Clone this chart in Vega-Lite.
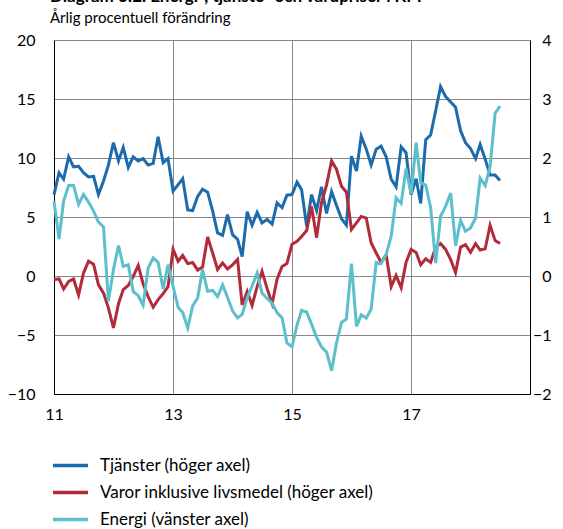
{
"$schema": "https://vega.github.io/schema/vega-lite/v6.json",
"width": 476, "height": 354,
"autosize": {"type": "none"},
"padding": {"left": 54, "top": 40, "right": 33, "bottom": 135},
"background": "white",
"config": {"font": "Lato", "view": {"stroke": null}},
"title": {"text": "Diagram 3:2. Energi-, tjänste- och varupriser i KPI", "subtitle": "Årlig procentuell förändring", "anchor": "start", "frame": "group", "dx": -4, "fontSize": 17, "fontWeight": "bold", "color": "black", "subtitleFontSize": 15, "subtitleColor": "black", "subtitlePadding": 5, "offset": 5},
"data": {"values": [
{"d":"2011-01-01","Tjänster (höger axel)":1.38,"Varor inklusive livsmedel (höger axel)":-0.06,"Energi (vänster axel)":6.35},
{"d":"2011-02-01","Tjänster (höger axel)":1.75,"Varor inklusive livsmedel (höger axel)":-0.05,"Energi (vänster axel)":3.14},
{"d":"2011-03-01","Tjänster (höger axel)":1.64,"Varor inklusive livsmedel (höger axel)":-0.22,"Energi (vänster axel)":6.35},
{"d":"2011-04-01","Tjänster (höger axel)":2.02,"Varor inklusive livsmedel (höger axel)":-0.09,"Energi (vänster axel)":7.68},
{"d":"2011-05-01","Tjänster (höger axel)":1.85,"Varor inklusive livsmedel (höger axel)":-0.05,"Energi (vänster axel)":7.68},
{"d":"2011-06-01","Tjänster (höger axel)":1.86,"Varor inklusive livsmedel (höger axel)":-0.32,"Energi (vänster axel)":6.06},
{"d":"2011-07-01","Tjänster (höger axel)":1.75,"Varor inklusive livsmedel (höger axel)":0.05,"Energi (vänster axel)":6.91},
{"d":"2011-08-01","Tjänster (höger axel)":1.68,"Varor inklusive livsmedel (höger axel)":0.25,"Energi (vänster axel)":6.26},
{"d":"2011-09-01","Tjänster (höger axel)":1.69,"Varor inklusive livsmedel (höger axel)":0.20,"Energi (vänster axel)":5.50},
{"d":"2011-10-01","Tjänster (höger axel)":1.38,"Varor inklusive livsmedel (höger axel)":-0.15,"Energi (vänster axel)":4.56},
{"d":"2011-11-01","Tjänster (höger axel)":1.61,"Varor inklusive livsmedel (höger axel)":-0.29,"Energi (vänster axel)":4.16},
{"d":"2011-12-01","Tjänster (höger axel)":1.88,"Varor inklusive livsmedel (höger axel)":-0.54,"Energi (vänster axel)":-2.15},
{"d":"2012-01-01","Tjänster (höger axel)":2.26,"Varor inklusive livsmedel (höger axel)":-0.88,"Energi (vänster axel)":0.54},
{"d":"2012-02-01","Tjänster (höger axel)":1.95,"Varor inklusive livsmedel (höger axel)":-0.47,"Energi (vänster axel)":2.58},
{"d":"2012-03-01","Tjänster (höger axel)":2.18,"Varor inklusive livsmedel (höger axel)":-0.23,"Energi (vänster axel)":0.82},
{"d":"2012-04-01","Tjänster (höger axel)":1.84,"Varor inklusive livsmedel (höger axel)":-0.16,"Energi (vänster axel)":0.96},
{"d":"2012-05-01","Tjänster (höger axel)":2.02,"Varor inklusive livsmedel (höger axel)":-0.01,"Energi (vänster axel)":-1.30},
{"d":"2012-06-01","Tjänster (höger axel)":1.95,"Varor inklusive livsmedel (höger axel)":0.18,"Energi (vänster axel)":-1.67},
{"d":"2012-07-01","Tjänster (höger axel)":1.99,"Varor inklusive livsmedel (höger axel)":-0.13,"Energi (vänster axel)":-2.46},
{"d":"2012-08-01","Tjänster (höger axel)":1.88,"Varor inklusive livsmedel (höger axel)":-0.35,"Energi (vänster axel)":0.68},
{"d":"2012-09-01","Tjänster (höger axel)":1.91,"Varor inklusive livsmedel (höger axel)":-0.53,"Energi (vänster axel)":1.53},
{"d":"2012-10-01","Tjänster (höger axel)":2.36,"Varor inklusive livsmedel (höger axel)":-0.40,"Energi (vänster axel)":1.16},
{"d":"2012-11-01","Tjänster (höger axel)":1.92,"Varor inklusive livsmedel (höger axel)":-0.30,"Energi (vänster axel)":-1.10},
{"d":"2012-12-01","Tjänster (höger axel)":1.99,"Varor inklusive livsmedel (höger axel)":-0.18,"Energi (vänster axel)":0.96},
{"d":"2013-01-01","Tjänster (höger axel)":1.44,"Varor inklusive livsmedel (höger axel)":0.45,"Energi (vänster axel)":-0.90},
{"d":"2013-02-01","Tjänster (höger axel)":1.55,"Varor inklusive livsmedel (höger axel)":0.25,"Energi (vänster axel)":-2.65},
{"d":"2013-03-01","Tjänster (höger axel)":1.65,"Varor inklusive livsmedel (höger axel)":0.35,"Energi (vänster axel)":-3.10},
{"d":"2013-04-01","Tjänster (höger axel)":1.12,"Varor inklusive livsmedel (höger axel)":0.21,"Energi (vänster axel)":-4.42},
{"d":"2013-05-01","Tjänster (höger axel)":1.11,"Varor inklusive livsmedel (höger axel)":0.23,"Energi (vänster axel)":-2.55},
{"d":"2013-06-01","Tjänster (höger axel)":1.35,"Varor inklusive livsmedel (höger axel)":0.10,"Energi (vänster axel)":-1.85},
{"d":"2013-07-01","Tjänster (höger axel)":1.47,"Varor inklusive livsmedel (höger axel)":0.15,"Energi (vänster axel)":0.54},
{"d":"2013-08-01","Tjänster (höger axel)":1.42,"Varor inklusive livsmedel (höger axel)":0.66,"Energi (vänster axel)":-1.30},
{"d":"2013-09-01","Tjänster (höger axel)":1.10,"Varor inklusive livsmedel (höger axel)":0.39,"Energi (vänster axel)":-1.22},
{"d":"2013-10-01","Tjänster (höger axel)":0.73,"Varor inklusive livsmedel (höger axel)":0.11,"Energi (vänster axel)":-1.75},
{"d":"2013-11-01","Tjänster (höger axel)":0.69,"Varor inklusive livsmedel (höger axel)":0.22,"Energi (vänster axel)":-0.75},
{"d":"2013-12-01","Tjänster (höger axel)":1.04,"Varor inklusive livsmedel (höger axel)":0.12,"Energi (vänster axel)":-1.80},
{"d":"2014-01-01","Tjänster (höger axel)":0.70,"Varor inklusive livsmedel (höger axel)":0.19,"Energi (vänster axel)":-2.95},
{"d":"2014-02-01","Tjänster (höger axel)":0.62,"Varor inklusive livsmedel (höger axel)":0.28,"Energi (vänster axel)":-3.55},
{"d":"2014-03-01","Tjänster (höger axel)":0.33,"Varor inklusive livsmedel (höger axel)":-0.49,"Energi (vänster axel)":-3.25},
{"d":"2014-04-01","Tjänster (höger axel)":1.09,"Varor inklusive livsmedel (höger axel)":-0.26,"Energi (vänster axel)":-1.85},
{"d":"2014-05-01","Tjänster (höger axel)":0.86,"Varor inklusive livsmedel (höger axel)":-0.50,"Energi (vänster axel)":-0.85},
{"d":"2014-06-01","Tjänster (höger axel)":1.08,"Varor inklusive livsmedel (höger axel)":-0.18,"Energi (vänster axel)":0.25},
{"d":"2014-07-01","Tjänster (höger axel)":0.90,"Varor inklusive livsmedel (höger axel)":0.08,"Energi (vänster axel)":-1.45},
{"d":"2014-08-01","Tjänster (höger axel)":0.96,"Varor inklusive livsmedel (höger axel)":-0.21,"Energi (vänster axel)":-1.90},
{"d":"2014-09-01","Tjänster (höger axel)":0.88,"Varor inklusive livsmedel (höger axel)":-0.47,"Energi (vänster axel)":-2.30},
{"d":"2014-10-01","Tjänster (höger axel)":1.24,"Varor inklusive livsmedel (höger axel)":-0.06,"Energi (vänster axel)":-3.10},
{"d":"2014-11-01","Tjänster (höger axel)":1.16,"Varor inklusive livsmedel (höger axel)":0.16,"Energi (vänster axel)":-3.55},
{"d":"2014-12-01","Tjänster (höger axel)":1.37,"Varor inklusive livsmedel (höger axel)":0.21,"Energi (vänster axel)":-5.67},
{"d":"2015-01-01","Tjänster (höger axel)":1.38,"Varor inklusive livsmedel (höger axel)":0.54,"Energi (vänster axel)":-6.00},
{"d":"2015-02-01","Tjänster (höger axel)":1.59,"Varor inklusive livsmedel (höger axel)":0.59,"Energi (vänster axel)":-4.15},
{"d":"2015-03-01","Tjänster (höger axel)":1.46,"Varor inklusive livsmedel (höger axel)":0.67,"Energi (vänster axel)":-2.92},
{"d":"2015-04-01","Tjänster (höger axel)":0.84,"Varor inklusive livsmedel (höger axel)":0.77,"Energi (vänster axel)":-3.05},
{"d":"2015-05-01","Tjänster (höger axel)":1.38,"Varor inklusive livsmedel (höger axel)":1.18,"Energi (vänster axel)":-4.08},
{"d":"2015-06-01","Tjänster (höger axel)":1.11,"Varor inklusive livsmedel (höger axel)":0.65,"Energi (vänster axel)":-5.20},
{"d":"2015-07-01","Tjänster (höger axel)":1.51,"Varor inklusive livsmedel (höger axel)":1.24,"Energi (vänster axel)":-6.00},
{"d":"2015-08-01","Tjänster (höger axel)":1.06,"Varor inklusive livsmedel (höger axel)":1.54,"Energi (vänster axel)":-6.45},
{"d":"2015-09-01","Tjänster (höger axel)":1.43,"Varor inklusive livsmedel (höger axel)":1.95,"Energi (vänster axel)":-8.02},
{"d":"2015-10-01","Tjänster (höger axel)":1.20,"Varor inklusive livsmedel (höger axel)":1.81,"Energi (vänster axel)":-5.69},
{"d":"2015-11-01","Tjänster (höger axel)":0.97,"Varor inklusive livsmedel (höger axel)":1.52,"Energi (vänster axel)":-3.94},
{"d":"2015-12-01","Tjänster (höger axel)":0.86,"Varor inklusive livsmedel (höger axel)":1.42,"Energi (vänster axel)":-3.65},
{"d":"2016-01-01","Tjänster (höger axel)":2.03,"Varor inklusive livsmedel (höger axel)":0.79,"Energi (vänster axel)":1.05},
{"d":"2016-02-01","Tjänster (höger axel)":1.78,"Varor inklusive livsmedel (höger axel)":0.90,"Energi (vänster axel)":-4.28},
{"d":"2016-03-01","Tjänster (höger axel)":2.37,"Varor inklusive livsmedel (höger axel)":1.01,"Energi (vänster axel)":-3.29},
{"d":"2016-04-01","Tjänster (höger axel)":2.15,"Varor inklusive livsmedel (höger axel)":0.98,"Energi (vänster axel)":-3.57},
{"d":"2016-05-01","Tjänster (höger axel)":1.88,"Varor inklusive livsmedel (höger axel)":0.56,"Energi (vänster axel)":-2.80},
{"d":"2016-06-01","Tjänster (höger axel)":2.15,"Varor inklusive livsmedel (höger axel)":0.39,"Energi (vänster axel)":1.16},
{"d":"2016-07-01","Tjänster (höger axel)":2.20,"Varor inklusive livsmedel (höger axel)":0.23,"Energi (vänster axel)":1.05},
{"d":"2016-08-01","Tjänster (höger axel)":2.02,"Varor inklusive livsmedel (höger axel)":0.36,"Energi (vänster axel)":1.81},
{"d":"2016-09-01","Tjänster (höger axel)":1.64,"Varor inklusive livsmedel (höger axel)":-0.18,"Energi (vänster axel)":3.37},
{"d":"2016-10-01","Tjänster (höger axel)":1.51,"Varor inklusive livsmedel (höger axel)":0.01,"Energi (vänster axel)":6.63},
{"d":"2016-11-01","Tjänster (höger axel)":2.19,"Varor inklusive livsmedel (höger axel)":-0.20,"Energi (vänster axel)":6.15},
{"d":"2016-12-01","Tjänster (höger axel)":2.09,"Varor inklusive livsmedel (höger axel)":0.23,"Energi (vänster axel)":9.09},
{"d":"2017-01-01","Tjänster (höger axel)":1.38,"Varor inklusive livsmedel (höger axel)":0.45,"Energi (vänster axel)":6.95},
{"d":"2017-02-01","Tjänster (höger axel)":1.65,"Varor inklusive livsmedel (höger axel)":0.40,"Energi (vänster axel)":11.3},
{"d":"2017-03-01","Tjänster (höger axel)":1.23,"Varor inklusive livsmedel (höger axel)":0.19,"Energi (vänster axel)":7.9},
{"d":"2017-04-01","Tjänster (höger axel)":2.31,"Varor inklusive livsmedel (höger axel)":0.29,"Energi (vänster axel)":7.7},
{"d":"2017-05-01","Tjänster (höger axel)":2.39,"Varor inklusive livsmedel (höger axel)":0.23,"Energi (vänster axel)":5.8},
{"d":"2017-06-01","Tjänster (höger axel)":2.80,"Varor inklusive livsmedel (höger axel)":0.49,"Energi (vänster axel)":1.1},
{"d":"2017-07-01","Tjänster (höger axel)":3.21,"Varor inklusive livsmedel (höger axel)":0.55,"Energi (vänster axel)":5.06},
{"d":"2017-08-01","Tjänster (höger axel)":3.04,"Varor inklusive livsmedel (höger axel)":0.45,"Energi (vänster axel)":5.9},
{"d":"2017-09-01","Tjänster (höger axel)":2.95,"Varor inklusive livsmedel (höger axel)":0.28,"Energi (vänster axel)":7.03},
{"d":"2017-10-01","Tjänster (höger axel)":2.86,"Varor inklusive livsmedel (höger axel)":0.06,"Energi (vänster axel)":2.57},
{"d":"2017-11-01","Tjänster (höger axel)":2.46,"Varor inklusive livsmedel (höger axel)":0.49,"Energi (vänster axel)":4.72},
{"d":"2017-12-01","Tjänster (höger axel)":2.26,"Varor inklusive livsmedel (höger axel)":0.53,"Energi (vänster axel)":3.79},
{"d":"2018-01-01","Tjänster (höger axel)":2.16,"Varor inklusive livsmedel (höger axel)":0.40,"Energi (vänster axel)":4.07},
{"d":"2018-02-01","Tjänster (höger axel)":1.99,"Varor inklusive livsmedel (höger axel)":0.55,"Energi (vänster axel)":4.92},
{"d":"2018-03-01","Tjänster (höger axel)":2.23,"Varor inklusive livsmedel (höger axel)":0.44,"Energi (vänster axel)":8.31},
{"d":"2018-04-01","Tjänster (höger axel)":1.98,"Varor inklusive livsmedel (höger axel)":0.46,"Energi (vänster axel)":7.66},
{"d":"2018-05-01","Tjänster (höger axel)":1.71,"Varor inklusive livsmedel (höger axel)":0.86,"Energi (vänster axel)":9.3},
{"d":"2018-06-01","Tjänster (höger axel)":1.71,"Varor inklusive livsmedel (höger axel)":0.60,"Energi (vänster axel)":13.8},
{"d":"2018-07-01","Tjänster (höger axel)":1.62,"Varor inklusive livsmedel (höger axel)":0.55,"Energi (vänster axel)":14.4}
]},
"transform": [{"fold": ["Tjänster (höger axel)", "Varor inklusive livsmedel (höger axel)", "Energi (vänster axel)"], "as": ["s", "v"]}],
"encoding": {
  "x": {"field": "d", "type": "temporal", "timeUnit": "utcyearmonth",
    "scale": {"domain": [{"year": 2011, "month": 1, "date": 1, "utc": true}, {"year": 2019, "month": 1, "date": 1, "utc": true}]},
    "axis": {"title": null, "values": [{"year": 2011, "utc": true}, {"year": 2013, "utc": true}, {"year": 2015, "utc": true}, {"year": 2017, "utc": true}],
      "format": "%y", "labelFlush": false, "labelFontSize": 16, "labelColor": "black", "labelPadding": 12, "ticks": false,
      "domainColor": "black", "domainWidth": 1, "grid": true, "gridColor": "#888888", "gridWidth": 1}
  },
  "color": {"field": "s", "type": "nominal",
    "scale": {"domain": ["Tjänster (höger axel)", "Varor inklusive livsmedel (höger axel)", "Energi (vänster axel)"], "range": ["#1c6bad", "#b22b3a", "#5dbfcc"]},
    "legend": {"title": null, "orient": "none", "legendX": 8, "legendY": 417, "direction": "vertical",
      "symbolType": "M-3.5,0H3.5", "symbolSize": 100, "symbolStrokeWidth": 3.5, "labelOffset": 21, "labelFontSize": 17, "labelColor": "black", "labelLimit": 400, "rowPadding": 9}
  }
},
"layer": [
  {"transform": [{"filter": "datum.s !== 'Energi (vänster axel)'"}],
   "mark": {"type": "line", "strokeWidth": 3},
   "encoding": {"y": {"field": "v", "type": "quantitative", "scale": {"domain": [-2, 4], "nice": false},
     "axis": {"orient": "right", "title": null, "values": [-2, -1, 0, 1, 2, 3, 4], "grid": false, "ticks": false, "labelAlign": "right", "labelPadding": 21, "labelFontSize": 16, "labelColor": "black", "domainColor": "black", "domainWidth": 1}}}},
  {"transform": [{"filter": "datum.s === 'Energi (vänster axel)'"}],
   "mark": {"type": "line", "strokeWidth": 3},
   "encoding": {"y": {"field": "v", "type": "quantitative", "scale": {"domain": [-10, 20], "nice": false},
     "axis": {"orient": "left", "title": null, "values": [-10, -5, 0, 5, 10, 15, 20], "grid": true, "gridColor": "#888888", "gridWidth": 1, "ticks": false, "labelPadding": 19, "labelFontSize": 16, "labelColor": "black", "domainColor": "black", "domainWidth": 1}}}}
],
"resolve": {"scale": {"y": "independent"}}
}
